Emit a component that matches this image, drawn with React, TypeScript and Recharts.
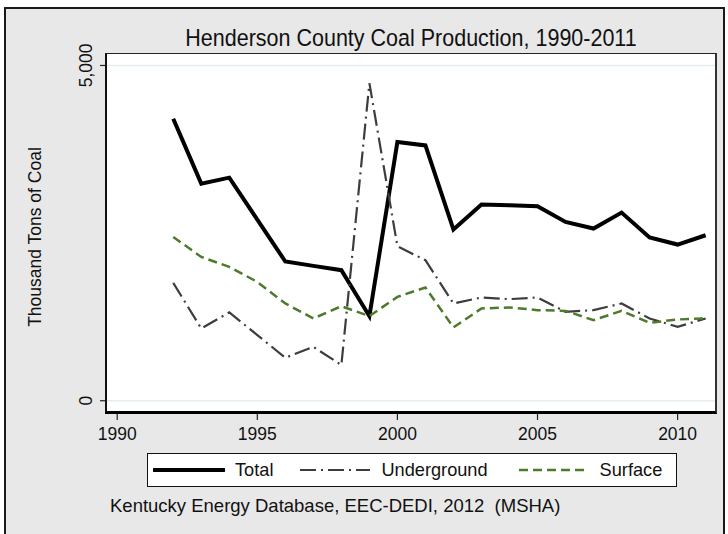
import React from "react";
import { LineChart, Line, XAxis, YAxis, CartesianGrid, Legend } from "recharts";

const years = [1992, 1993, 1994, 1995, 1996, 1997, 1998, 1999, 2000, 2001, 2002, 2003, 2004, 2005, 2006, 2007, 2008, 2009, 2010, 2011];
const total = [4206, 3238, 3327, 2700, 2076, 2011, 1947, 1261, 3858, 3808, 2553, 2925, 2915, 2900, 2666, 2568, 2806, 2434, 2329, 2468];
const underground = [1758, 1078, 1317, 979, 641, 804, 532, 4737, 2304, 2096, 1451, 1540, 1515, 1540, 1326, 1351, 1451, 1227, 1102, 1227];
const surface = [2443, 2145, 1996, 1772, 1451, 1227, 1410, 1261, 1549, 1689, 1093, 1376, 1391, 1351, 1340, 1202, 1340, 1162, 1212, 1227];
const seriesNames = ["Total", "Underground", "Surface"];
const xTicks = [1990, 1995, 2000, 2005, 2010];
const yTicks = [0, 5000];

const data = years.map((y, i) => ({ year: y, total: total[i], underground: underground[i], surface: surface[i] }));

const FONT = "'Liberation Sans', Arial, sans-serif";

const YTick = (props: any) => {
  const { x, y, payload } = props;
  return (
    <text
      transform={`translate(${x - 8},${y}) rotate(-90)`}
      textAnchor="middle"
      fontSize={17.5}
      fontFamily={FONT}
      fill="#111"
    >
      {payload.value.toLocaleString("en-US")}
    </text>
  );
};

const LegendContent = (props: any) => {
  const items = [...(props.payload || [])].sort(
    (a: any, b: any) => seriesNames.indexOf(a.value) - seriesNames.indexOf(b.value)
  );
  return (
    <div
      style={{
        position: "absolute",
        left: 147,
        top: 453,
        width: 530,
        height: 34,
        boxSizing: "border-box",
        border: "1.5px solid #111",
        background: "#fff",
        display: "flex",
        alignItems: "center",
        paddingLeft: 5,
        fontFamily: FONT,
        fontSize: 18.2,
        color: "#111",
      }}
    >
      {items.map((it: any, i: number) => {
        const p = it.payload || {};
        return (
          <div key={i} style={{ display: "flex", alignItems: "center", marginRight: i === 0 ? 26 : 30 }}>
            <svg width={72} height={10} style={{ display: "block" }}>
              <line
                x1={1}
                y1={5}
                x2={71}
                y2={5}
                stroke={p.stroke}
                strokeWidth={p.strokeWidth}
                strokeDasharray={p.strokeDasharray}
                strokeLinecap={i === 0 ? "round" : "butt"}
              />
            </svg>
            <span style={{ marginLeft: 10 }}>{it.value}</span>
          </div>
        );
      })}
    </div>
  );
};

export default function App() {
  return (
    <div style={{ position: "absolute", left: 0, top: 0, width: 728, height: 534, background: "#fff", overflow: "hidden" }}>
      <div
        style={{
          position: "absolute",
          left: 4,
          top: 7,
          width: 721,
          height: 530,
          boxSizing: "border-box",
          border: "2px solid #1a1a1a",
          background: "#e8e8e8",
        }}
      />
      <div
        style={{
          position: "absolute",
          left: 0,
          width: 822,
          top: 24,
          textAlign: "center",
          fontFamily: FONT,
          fontSize: 21.5,
          color: "#111",
          lineHeight: "28px",
          transform: "scaleY(1.08)",
        }}
      >
        Henderson County Coal Production, 1990-2011
      </div>
      <div
        style={{
          position: "absolute",
          left: 35 - 120,
          top: 237 - 12,
          width: 240,
          height: 24,
          lineHeight: "24px",
          textAlign: "center",
          transform: "rotate(-90deg)",
          fontFamily: FONT,
          fontSize: 17.5,
          color: "#111",
        }}
      >
        Thousand Tons of Coal
      </div>
      <div
        style={{
          position: "absolute",
          left: 110,
          top: 494,
          fontFamily: FONT,
          fontSize: 18.5,
          color: "#111",
          lineHeight: "24px",
          whiteSpace: "pre",
        }}
      >
        {"Kentucky Energy Database, EEC-DEDI, 2012  (MSHA)"}
      </div>
      <div style={{ position: "absolute", left: 0, top: 0 }}>
        <LineChart width={728} height={534} data={data} margin={{ top: 54, left: 66, right: 12, bottom: 91 }}>
          <CartesianGrid
            vertical={false}
            horizontal={true}
            fill="#ffffff"
            stroke="#e4eeee"
            strokeWidth={1.5}
            horizontalValues={yTicks}
          />
          <XAxis
            dataKey="year"
            type="number"
            domain={[1989.6, 2011.37]}
            allowDataOverflow
            ticks={xTicks}
            height={30}
            tickSize={7}
            tickMargin={8}
            axisLine={false}
            tickLine={{ stroke: "#222", strokeWidth: 1.2 }}
            tick={{ fontSize: 17.5, fontFamily: FONT, fill: "#111" }}
          />
          <YAxis
            type="number"
            domain={[-183, 5171]}
            allowDataOverflow
            ticks={yTicks}
            width={40}
            tickSize={6}
            tickMargin={0}
            axisLine={false}
            tickLine={{ stroke: "#222", strokeWidth: 1.2 }}
            tick={<YTick />}
          />
          <Legend content={<LegendContent />} wrapperStyle={{ position: "absolute", left: 0, top: 0, width: 0, height: 0 }} />
          <Line
            dataKey="total"
            name={seriesNames[0]}
            stroke="#000"
            strokeWidth={4}
            dot={false}
            isAnimationActive={false}
            strokeLinejoin="miter"
          />
          <Line
            dataKey="underground"
            name={seriesNames[1]}
            stroke="#3d3d3d"
            strokeWidth={2.2}
            strokeDasharray="16 5 2 5"
            dot={false}
            isAnimationActive={false}
          />
          <Line
            dataKey="surface"
            name={seriesNames[2]}
            stroke="#4e7a2c"
            strokeWidth={2.5}
            strokeDasharray="9 5"
            dot={false}
            isAnimationActive={false}
          />
        </LineChart>
      </div>
      <div
        style={{
          position: "absolute",
          left: 105,
          top: 53,
          width: 612,
          height: 361,
          boxSizing: "border-box",
          borderLeft: "2px solid #111",
          borderTop: "1.5px solid #222",
          borderRight: "2px solid #333",
          borderBottom: "3px solid #000",
          pointerEvents: "none",
        }}
      />
    </div>
  );
}
